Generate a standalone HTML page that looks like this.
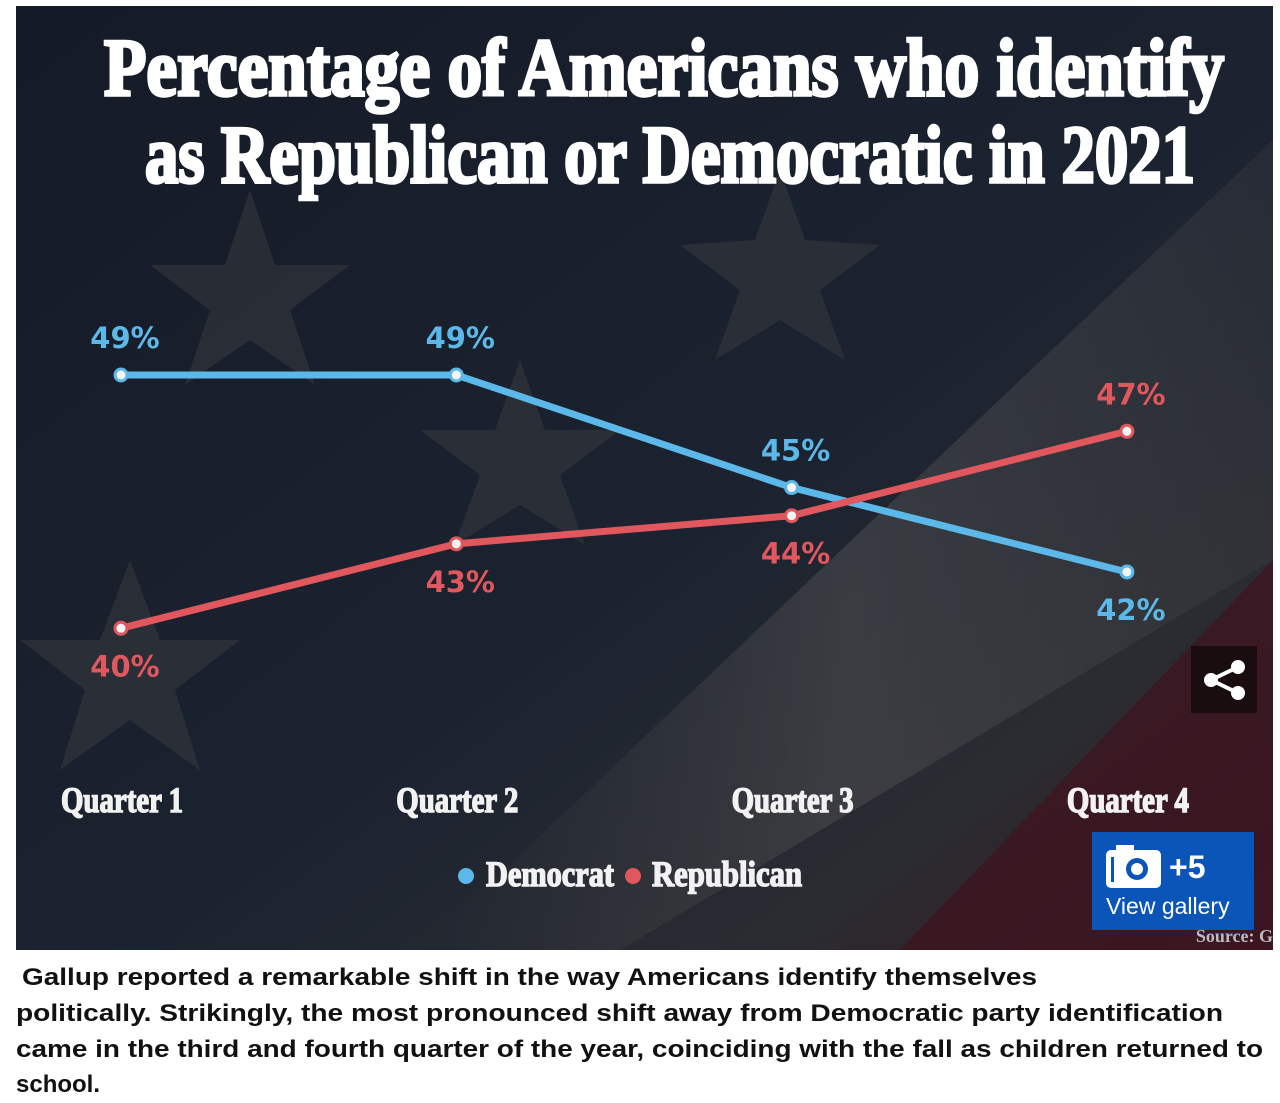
<!DOCTYPE html>
<html><head><meta charset="utf-8"><style>
html,body{margin:0;padding:0;background:#fff;}
svg{display:block;}
</style></head><body>
<svg width="1280" height="1103" viewBox="0 0 1280 1103" xmlns="http://www.w3.org/2000/svg">
<defs>
<linearGradient id="bg" x1="0" y1="0" x2="1" y2="1">
<stop offset="0" stop-color="#141a26"/><stop offset="0.55" stop-color="#1c2330"/><stop offset="0.8" stop-color="#2a2c31"/><stop offset="1" stop-color="#3a1620"/>
</linearGradient>
<linearGradient id="stripe" x1="0" y1="0" x2="1" y2="0">
<stop offset="0" stop-color="#3d3e42" stop-opacity="0"/><stop offset="0.5" stop-color="#4a4a4e" stop-opacity="0.6"/><stop offset="1" stop-color="#4a4a4e" stop-opacity="0.2"/>
</linearGradient>
</defs>
<rect x="16" y="6" width="1257" height="944" fill="url(#bg)"/>
<polygon points="1273,140 1273,560 620,950 420,950" fill="url(#stripe)"/>
<polygon points="1273,560 1273,950 900,950" fill="#3d1520" opacity="0.8"/>
<g fill="#3a3c40" opacity="0.5">
<polygon points="250,190 275,265 350,265 290,310 315,385 250,340 185,385 210,310 150,265 225,265"/>
<polygon points="780,170 805,240 880,245 820,290 845,360 780,320 715,360 740,290 680,245 755,240"/>
<polygon points="130,560 160,640 240,640 175,690 200,770 130,720 60,770 85,690 20,640 100,640"/>
<polygon points="520,360 545,430 620,430 560,475 585,545 520,505 455,545 480,475 420,430 495,430"/>
</g>
<g font-family="'Liberation Serif',serif" font-weight="bold" fill="#fff" stroke="#fff" stroke-width="3.5" font-size="82">
<text x="104" y="95" textLength="1120" lengthAdjust="spacingAndGlyphs">Percentage of Americans who identify</text>
<text x="145" y="182" textLength="1050" lengthAdjust="spacingAndGlyphs">as Republican or Democratic in 2021</text>
</g>
<g id="plot"></g>
<g font-family="'Liberation Serif',serif" font-weight="bold" fill="#f2f2f2" stroke="#f2f2f2" stroke-width="1.5" font-size="36" text-anchor="middle" id="xaxis"></g>
<g font-family="'Liberation Serif',serif" font-weight="bold" font-size="36" fill="#f2f2f2" stroke="#f2f2f2" stroke-width="1.5">
<circle cx="466" cy="876" r="8" fill="#5bb8e8" stroke="none"/>
<text x="486" y="886" textLength="128" lengthAdjust="spacingAndGlyphs">Democrat</text>
<circle cx="633" cy="876" r="8" fill="#e0585e" stroke="none"/>
<text x="652" y="886" textLength="150" lengthAdjust="spacingAndGlyphs">Republican</text>
</g>
<g>
<rect x="1191" y="646" width="66" height="67" fill="#1a0d10"/>
<circle cx="1238" cy="667" r="7" fill="#fff"/><circle cx="1211" cy="680" r="7" fill="#fff"/><circle cx="1238" cy="693" r="7" fill="#fff"/>
<path d="M1238 667 L1211 680 L1238 693" stroke="#fff" stroke-width="4" fill="none"/>
</g>
<text x="1273" y="942" text-anchor="end" font-family="'Liberation Serif',serif" font-weight="bold" font-size="18" fill="#bbb">Source: G</text>
<g>
<rect x="1092" y="832" width="162" height="98" fill="#0b55b8"/>
<rect x="1106" y="850" width="55" height="38" rx="5" fill="#fff"/>
<rect x="1116" y="845" width="18" height="8" fill="#fff"/>
<circle cx="1137" cy="869" r="11" fill="#0b55b8"/><circle cx="1137" cy="869" r="6" fill="#fff"/>
<rect x="1111" y="857" width="3" height="25" fill="#0b55b8"/>
<text x="1169" y="878" font-family="'Liberation Sans',sans-serif" font-weight="bold" font-size="32" fill="#fff">+5</text>
<text x="1106" y="914" font-family="'Liberation Sans',sans-serif" font-size="23" fill="#fff">View gallery</text>
</g>
<g font-family="'Liberation Sans',sans-serif" font-weight="bold" font-size="24" fill="#111">
<text x="22" y="985" textLength="1015" lengthAdjust="spacingAndGlyphs">Gallup reported a remarkable shift in the way Americans identify themselves</text>
<text x="16" y="1021" textLength="1207" lengthAdjust="spacingAndGlyphs">politically. Strikingly, the most pronounced shift away from Democratic party identification</text>
<text x="16" y="1057" textLength="1247" lengthAdjust="spacingAndGlyphs">came in the third and fourth quarter of the year, coinciding with the fall as children returned to</text>
<text x="16" y="1092">school.</text>
</g>
</svg>
<script>
const categories = ["Quarter 1","Quarter 2","Quarter 3","Quarter 4"];
const democrat = [49,49,45,42];
const republican = [40,43,44,47];
const demLabelAbove = [true,true,true,false];
const repLabelAbove = [false,false,false,true];
const NS="http://www.w3.org/2000/svg";
function xPos(i){return 121 + i*335.3;}
function yPos(v){return 375 + (49 - v)*28.14;}
const plot=document.getElementById('plot');
function drawSeries(vals, color, name, above){
  const pl=document.createElementNS(NS,'polyline');
  pl.setAttribute('points', vals.map((v,i)=>xPos(i)+','+yPos(v)).join(' '));
  pl.setAttribute('fill','none');pl.setAttribute('stroke',color);pl.setAttribute('stroke-width','7');
  
  
  plot.appendChild(pl);
  vals.forEach((v,i)=>{
    const c=document.createElementNS(NS,'circle');
    c.setAttribute('cx',xPos(i));c.setAttribute('cy',yPos(v));c.setAttribute('r','6');
    c.setAttribute('fill','#f4f4f4');c.setAttribute('stroke',color);c.setAttribute('stroke-width','3');
    
    
    plot.appendChild(c);
    const t=document.createElementNS(NS,'text');
    t.setAttribute('x',xPos(i)+4);
    t.setAttribute('y',yPos(v)+(above[i]?-27:48));
    t.setAttribute('text-anchor','middle');
    t.setAttribute('font-family',"'DejaVu Sans',sans-serif");
    t.setAttribute('font-weight','bold');t.setAttribute('font-size','29');
    t.setAttribute('fill',color);
    t.textContent=v+'%';
    
    
    plot.appendChild(t);
  });
}
drawSeries(democrat,'#5bb8e8','democrat',demLabelAbove);
drawSeries(republican,'#e0585e','republican',repLabelAbove);
const xa=document.getElementById('xaxis');
categories.forEach((c,i)=>{
  const t=document.createElementNS(NS,'text');
  t.setAttribute('x',xPos(i)+1);t.setAttribute('y',812);
  t.setAttribute('textLength','122');t.setAttribute('lengthAdjust','spacingAndGlyphs');
  t.textContent=c;
  
  
  xa.appendChild(t);
});
</script>
</body></html>
